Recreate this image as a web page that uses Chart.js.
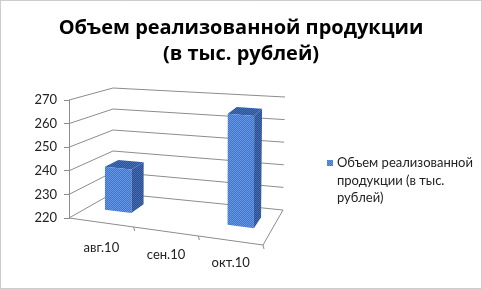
<!DOCTYPE html>
<html>
<head>
<meta charset="utf-8">
<script src="https://cdn.jsdelivr.net/npm/chart.js@4.4.1/dist/chart.umd.min.js"></script>
<style>
  html, body { margin: 0; background: #fff; }
</style>
</head>
<body>
<canvas id="myChart" width="482" height="289"></canvas>
<script>
const chartTitle = ['Объем реализованной продукции', '(в тыс. рублей)'];
const months = ['авг.10', 'сен.10', 'окт.10'];
const salesValues = [239, null, 267];
const yTicks = [220, 230, 240, 250, 260, 270];
const seriesName = ['Объем реализованной', 'продукции (в тыс.', 'рублей)'];

const fontFamily = 'Lato, "Open Sans", sans-serif';
const titleFamily = '"Open Sans", sans-serif';
const gridColor = '#8c8c8c';

// small checker pattern, imitates the dithered fill of the old excel picture
function dither(c1, c2) {
  const cv = document.createElement('canvas');
  cv.width = cv.height = 2;
  const g = cv.getContext('2d');
  g.fillStyle = c1;
  g.fillRect(0, 0, 2, 2);
  g.fillStyle = c2;
  g.fillRect(0, 0, 1, 1);
  g.fillRect(1, 1, 1, 1);
  return g.createPattern(cv, 'repeat');
}

function lerp(a, b, t) {
  return [a[0] + (b[0] - a[0]) * t, a[1] + (b[1] - a[1]) * t];
}

// corners of front and back plane, taken from the chart area
function getBox(area) {
  const L = area.left, R = area.right, T = area.top, B = area.bottom;
  return {
    front: { lb: [L, B], rb: [R, B + 27], lt: [L, T], rt: [R - 1, T + 20] },
    back: { lb: [L + 44, B - 25], rb: [R + 20, B - 8], lt: [L + 44, T - 12], rt: [R + 22, T - 3] }
  };
}

function plane(p, u, v) {
  return lerp(lerp(p.lb, p.rb, u), lerp(p.lt, p.rt, u), v);
}

function proj(box, u, v, d) {
  return lerp(plane(box.front, u, v), plane(box.back, u, v), d);
}

function line(ctx, a, b) {
  ctx.beginPath();
  ctx.moveTo(a[0], a[1]);
  ctx.lineTo(b[0], b[1]);
  ctx.stroke();
}

function poly(ctx, pts, fill) {
  ctx.beginPath();
  ctx.moveTo(pts[0][0], pts[0][1]);
  for (let i = 1; i < pts.length; i++) ctx.lineTo(pts[i][0], pts[i][1]);
  ctx.closePath();
  ctx.fillStyle = fill;
  ctx.fill();
}

const frontFill = dither('#3f72c8', '#669ae2');
const sideFill = dither('#2b4f8f', '#456cb2');
const topFill = dither('#2c5296', '#4870b8');

const clamp01 = t => Math.max(0, Math.min(1, t));

const threeD = {
  id: 'threeD',
  beforeDatasetsDraw(chart) {
    const ctx = chart.ctx;
    const area = chart.chartArea;
    const box = getBox(area);
    const y = chart.scales.y;
    const x = chart.scales.x;
    const H = area.bottom - area.top;
    const W = area.right - area.left;
    ctx.save();
    ctx.strokeStyle = gridColor;
    ctx.lineWidth = 1;
    y.ticks.forEach(t => {
      const v = (area.bottom - y.getPixelForValue(t.value)) / H;
      line(ctx, proj(box, 0, v, 0), proj(box, 0, v, 1));
      line(ctx, proj(box, 0, v, 1), proj(box, 1, v, 1));
    });
    // floor
    line(ctx, proj(box, 0, 0, 0), proj(box, 1, 0, 0));
    line(ctx, proj(box, 1, 0, 0), proj(box, 1, 0, 1));
    for (let i = 1; i <= months.length; i++) {
      const u = (x.getPixelForValue(i - 0.5) - area.left) / W;
      const p = proj(box, u, 0, 0);
      line(ctx, p, [p[0] + 1, p[1] + 4]);
    }

    // bars as boxes
    const meta = chart.getDatasetMeta(0);
    const d0 = 0.42, d1 = 0.74;
    meta.data.forEach((bar, i) => {
      if (salesValues[i] == null) return;
      const u0 = (bar.x - bar.width / 2 - area.left) / W;
      const u1 = (bar.x + bar.width / 2 - area.left) / W;
      const v0 = clamp01((area.bottom - bar.base) / H);
      const v1 = clamp01((area.bottom - bar.y) / H);
      const P = (u, v, d) => proj(box, u, v, d);
      poly(ctx, [P(u1, v0, d0), P(u1, v1, d0), P(u1, v1, d1), P(u1, v0, d1)], sideFill);
      poly(ctx, [P(u0, v1, d0), P(u1, v1, d0), P(u1, v1, d1), P(u0, v1, d1)], topFill);
      poly(ctx, [P(u0, v0, d0), P(u1, v0, d0), P(u1, v1, d0), P(u0, v1, d0)], frontFill);
    });
    ctx.restore();
  },
  afterDraw(chart) {
    const ctx = chart.ctx;
    ctx.save();
    // legend
    ctx.fillStyle = frontFill;
    ctx.fillRect(327, 160, 6, 6);
    ctx.fillStyle = '#222';
    ctx.font = '13px ' + fontFamily;
    ctx.textBaseline = 'middle';
    seriesName.forEach((s, i) => ctx.fillText(s, 337, 163 + i * 17.5));
    // dotted frame
    ctx.strokeStyle = '#9a9a9a';
    ctx.setLineDash([1, 1]);
    ctx.strokeRect(0.5, 0.5, chart.width - 1, chart.height - 1);
    ctx.restore();
  }
};

new Chart(document.getElementById('myChart'), {
  type: 'bar',
  data: {
    labels: months.map((m, i) => Array(i).fill('').concat(m)),
    datasets: [{
      label: seriesName.join(' '),
      data: salesValues,
      backgroundColor: 'rgba(0,0,0,0)',
      borderWidth: 0,
      barPercentage: 0.43,
      categoryPercentage: 1
    }]
  },
  options: {
    responsive: false,
    animation: false,
    layout: { padding: 0 },
    plugins: {
      legend: { display: false },
      tooltip: { enabled: false },
      title: {
        display: true,
        text: chartTitle,
        color: '#000',
        font: { family: titleFamily, size: 20, weight: 'bold', lineHeight: 1.3 },
        padding: { top: 15, bottom: 33 }
      }
    },
    scales: {
      x: {
        grid: { display: false, drawTicks: false },
        border: { display: false },
        ticks: {
          color: '#222',
          padding: 26,
          maxRotation: 0,
          autoSkip: false,
          font: { family: fontFamily, size: 13, lineHeight: 0.58 }
        },
        afterFit(scale) { scale.height = 71; }
      },
      y: {
        min: 220,
        max: 270,
        grid: { drawOnChartArea: false, tickLength: 5, color: gridColor },
        border: { color: gridColor },
        ticks: {
          color: '#222',
          padding: 7,
          font: { family: fontFamily, size: 13 }
        },
        afterBuildTicks(scale) { scale.ticks = yTicks.map(v => ({ value: v })); },
        afterFit(scale) { scale.width = 69; }
      },
      // empty axis on the right keeps room for the legend
      legendRoom: {
        type: 'linear',
        position: 'right',
        grid: { display: false, drawTicks: false },
        border: { display: false },
        ticks: { display: false },
        afterFit(scale) { scale.width = 219; }
      }
    }
  },
  plugins: [threeD]
});
</script>
</body>
</html>
